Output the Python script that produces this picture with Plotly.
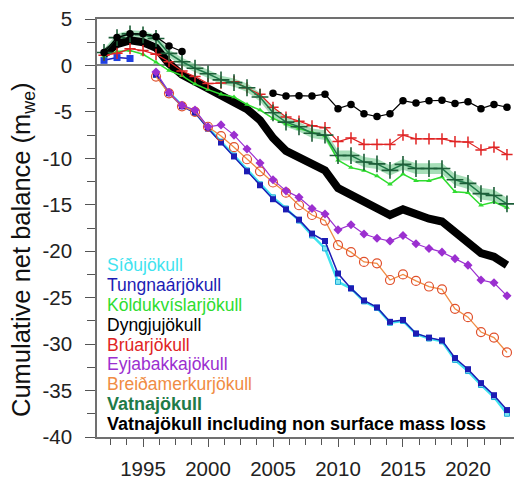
import plotly.graph_objects as go

years = list(range(1992, 2024))
years_dyng_a = list(range(1992, 1999))
years_dyng_b = list(range(2005, 2024))
years_tung_a = [1992, 1993, 1994]
years_late = list(range(1996, 2024))

vatna_total = [1.2, 2.3, 2.7, 2.5, 1.9, 0.2, -1.0, -1.7, -2.5, -3.2, -4.0, -4.7, -5.9, -7.8, -9.2, -9.9, -10.7, -11.3,
               -13.2, -13.9, -14.8, -15.3, -16.1, -15.5, -16.1, -16.5, -16.8, -18.0, -19.1, -20.2, -20.6, -21.5]
vatna = [1.4, 3.0, 3.4, 3.3, 2.9, 1.3, 0.4, -0.3, -0.9, -1.55, -1.85, -2.4, -3.4, -5.1, -6.1, -6.6, -7.3, -7.5,
         -9.7, -9.7, -10.4, -10.6, -11.3, -10.65, -11.1, -11.1, -11.1, -12.3, -12.7, -13.8, -14.0, -14.9]
vatna_unc = [0.4, 0.4, 0.4, 0.4, 0.4, 0.42, 0.42, 0.44, 0.44, 0.45, 0.45, 0.46, 0.47, 0.48, 0.5, 0.5, 0.5, 0.52,
             0.53, 0.54, 0.55, 0.55, 0.56, 0.57, 0.58, 0.58, 0.59, 0.6, 0.61, 0.62, 0.63, 0.65]
bruar = [1.1, 1.3, 1.8, 1.6, 1.2, 0.4, -0.6, -1.2, -1.95, -1.9, -1.75, -2.4, -3.1, -4.5, -5.55, -6.0, -6.5, -6.7,
         -8.2, -7.8, -8.5, -8.5, -8.5, -7.5, -7.9, -7.9, -7.9, -8.2, -8.25, -9.1, -8.8, -9.6]
koldu = [1.0, 1.5, 1.6, 1.2, 0.35, -0.55, -1.1, -2.0, -2.6, -3.1, -3.4, -4.2, -4.8, -5.7, -6.3, -6.8, -7.2, -7.6,
         -10.2, -11.0, -11.3, -11.9, -12.8, -11.7, -12.4, -12.4, -12.0, -13.6, -13.7, -15.05, -14.7, -15.3]
dyng_a = [1.4, 3.0, 3.4, 3.4, 3.1, 2.1, 1.5]
dyng_b = [-3.0, -3.3, -3.25, -3.3, -3.1, -4.65, -4.2, -5.2, -5.5, -5.2, -3.8, -4.05, -3.8, -3.75, -4.1, -3.9,
          -4.65, -4.2, -4.5]
eyja = [-0.7, -2.9, -4.3, -4.8, -6.6, -6.4, -7.5, -9.0, -10.5, -12.3, -13.5, -14.2, -15.4, -16.0, -17.7, -17.15,
        -18.15, -18.6, -18.9, -18.3, -19.2, -19.7, -20.1, -20.8, -21.5, -23.1, -23.4, -24.8]
breida = [-1.2, -3.0, -4.4, -5.0, -6.6, -7.6, -8.8, -10.1, -11.4, -12.6, -13.7, -15.05, -16.1, -16.7, -19.35, -20.1,
          -21.15, -21.3, -23.1, -22.5, -23.2, -23.8, -24.1, -26.2, -27.1, -28.7, -29.3, -30.9]
tung_a = [0.55, 0.85, 0.75]
tung = [-1.0, -3.0, -4.4, -5.1, -6.8, -8.3, -9.8, -11.4, -12.9, -14.4, -15.5, -16.6, -18.1, -18.9, -22.4, -24.0,
        -25.3, -26.05, -27.6, -27.4, -28.85, -29.3, -29.6, -31.5, -32.7, -34.2, -35.5, -37.1]
sidu = [-1.0, -2.9, -4.3, -5.0, -6.7, -8.2, -9.7, -11.3, -12.8, -14.2, -15.4, -16.7, -18.3, -19.7, -23.3, -24.0,
        -25.4, -26.1, -27.7, -27.5, -28.9, -29.4, -29.7, -31.7, -32.9, -34.4, -35.7, -37.5]

legend_names = ["Síðujökull", "Tungnaárjökull", "Köldukvíslarjökull", "Dyngjujökull", "Brúarjökull",
                "Eyjabakkajökull", "Breiðamerkurjökull", "Vatnajökull",
                "Vatnajökull including non surface mass loss"]
y_tick_vals = [5, 0, -5, -10, -15, -20, -25, -30, -35, -40]
y_tick_labels = ["5", "0", "-5", "-10", "-15", "-20", "-25", "-30", "-35", "-40"]
x_tick_vals = [1995, 2000, 2005, 2010, 2015, 2020]
x_tick_labels = ["1995", "2000", "2005", "2010", "2015", "2020"]

C_SIDU = "#3fe3ef"
C_TUNG = "#1c1cb4"
C_KOLD = "#2fdc2f"
C_DYNG = "#000000"
C_BRUAR = "#e02424"
C_EYJA = "#9b2fd0"
C_BREIDA = "#f08c44"
C_VATNA = "#1f7a48"
legend_colors = [C_SIDU, C_TUNG, C_KOLD, C_DYNG, C_BRUAR, C_EYJA, C_BREIDA, C_VATNA, "#000000"]

fig = go.Figure()

upper = [v + u for v, u in zip(vatna, vatna_unc)]
lower = [v - u for v, u in zip(vatna, vatna_unc)]
fig.add_trace(go.Scatter(x=years, y=upper, mode="lines", line=dict(width=0), showlegend=False, hoverinfo="skip"))
fig.add_trace(go.Scatter(x=years, y=lower, mode="lines", line=dict(width=0), fill="tonexty",
                         fillcolor="rgba(95,195,125,0.55)", showlegend=False, hoverinfo="skip"))

fig.add_trace(go.Scatter(x=years, y=vatna_total, mode="lines", line=dict(color="black", width=8),
                         showlegend=False))

fig.add_trace(go.Scatter(x=years_late, y=sidu, mode="lines+markers", line=dict(color=C_SIDU, width=2.5),
                         marker=dict(symbol="square", size=5, color="#7fe6f2", line=dict(color="#1aa8d8", width=1)),
                         showlegend=False))
fig.add_trace(go.Scatter(x=years_late, y=tung, mode="lines+markers", line=dict(color=C_TUNG, width=1.5),
                         marker=dict(symbol="square", size=6, color=C_TUNG), showlegend=False))
fig.add_trace(go.Scatter(x=years_tung_a, y=tung_a, mode="lines+markers", line=dict(color=C_TUNG, width=1.5),
                         marker=dict(symbol="square", size=7, color="#1f3fe0"), showlegend=False))
fig.add_trace(go.Scatter(x=years_late, y=breida, mode="lines+markers", line=dict(color=C_BREIDA, width=1.3),
                         marker=dict(symbol="circle-open", size=9, color="#e0502c", line=dict(width=1.2)),
                         showlegend=False))
fig.add_trace(go.Scatter(x=years_late, y=eyja, mode="lines+markers", line=dict(color=C_EYJA, width=1.2),
                         marker=dict(symbol="diamond", size=7, color=C_EYJA), showlegend=False))
fig.add_trace(go.Scatter(x=years, y=koldu, mode="lines+markers", line=dict(color=C_KOLD, width=1.5),
                         marker=dict(symbol="triangle-up", size=5, color=C_KOLD), showlegend=False))
fig.add_trace(go.Scatter(x=years, y=bruar, mode="lines+markers", line=dict(color=C_BRUAR, width=1.2),
                         marker=dict(symbol="cross-thin", size=8, line=dict(color=C_BRUAR, width=1.5)),
                         showlegend=False))
fig.add_trace(go.Scatter(x=years, y=vatna, mode="lines+markers", line=dict(color=C_VATNA, width=1.5),
                         marker=dict(symbol="cross-thin", size=12, line=dict(color="#1d5e38", width=1.6)),
                         showlegend=False))
fig.add_trace(go.Scatter(x=years_dyng_a, y=dyng_a, mode="lines+markers", line=dict(color=C_DYNG, width=1.2),
                         marker=dict(symbol="circle", size=7.5, color=C_DYNG), showlegend=False))
fig.add_trace(go.Scatter(x=years_dyng_b, y=dyng_b, mode="lines+markers", line=dict(color=C_DYNG, width=1.2),
                         marker=dict(symbol="circle", size=7.5, color=C_DYNG), showlegend=False))

W, H = 514, 480
L, R, T, B = 97, 0, 19, 43
pw, ph = W - L - R, H - T - B

annotations = []
legend_y = [265, 285, 305, 325, 345, 364, 384, 404, 424]
for i, (name, col, yc) in enumerate(zip(legend_names, legend_colors, legend_y)):
    bold = i >= 7
    annotations.append(dict(
        text=f"<b>{name}</b>" if bold else name, xref="paper", yref="paper",
        x=(105 - L) / pw, y=(H - B - yc) / ph, xanchor="left", yanchor="middle", showarrow=False,
        font=dict(size=18 if bold else 17.5, color=col, family="Liberation Sans, Arial, sans-serif")))
annotations.append(dict(
    text="Cumulative net balance (m<sub>we</sub>)", xref="paper", yref="paper",
    x=(23 - L) / pw, y=(H - B - 250) / ph, xanchor="center", yanchor="middle", textangle=-90,
    showarrow=False, font=dict(size=25.5, color="#111", family="Liberation Sans, Arial, sans-serif")))

fig.update_layout(
    width=W, height=H, margin=dict(l=L, r=R, t=T, b=B, autoexpand=False),
    plot_bgcolor="white", paper_bgcolor="white",
    font=dict(family="Liberation Sans, Arial, sans-serif", color="#222"),
    annotations=annotations,
    xaxis=dict(range=[1991.46, 2023.54], showline=True, linecolor="#707070", linewidth=1.5, mirror=True,
               automargin=False,
               ticks="outside", ticklen=8, tickcolor="#555", tickwidth=1.2, ticklabelstandoff=5,
               tickmode="array", tickvals=x_tick_vals, ticktext=x_tick_labels,
               tickfont=dict(size=20.5, color="#222"), showgrid=False, zeroline=False,
               minor=dict(ticks="outside", tickmode="linear", tick0=1995, dtick=1.25, ticklen=6,
                          tickcolor="#555", tickwidth=1.2, showgrid=False)),
    yaxis=dict(range=[-40, 5], showline=True, linecolor="#707070", linewidth=1.5, automargin=False,
               ticks="outside", ticklen=10, tickcolor="#555", tickwidth=1.2, ticklabelstandoff=9,
               tickmode="array", tickvals=y_tick_vals, ticktext=y_tick_labels,
               tickfont=dict(size=20.5, color="#222"), showgrid=False,
               zeroline=True, zerolinecolor="#808080", zerolinewidth=2,
               minor=dict(ticks="outside", tickmode="linear", tick0=0, dtick=2.5, ticklen=8,
                          tickcolor="#555", tickwidth=1.2, showgrid=False)),
)

fig.write_html("out.html")
